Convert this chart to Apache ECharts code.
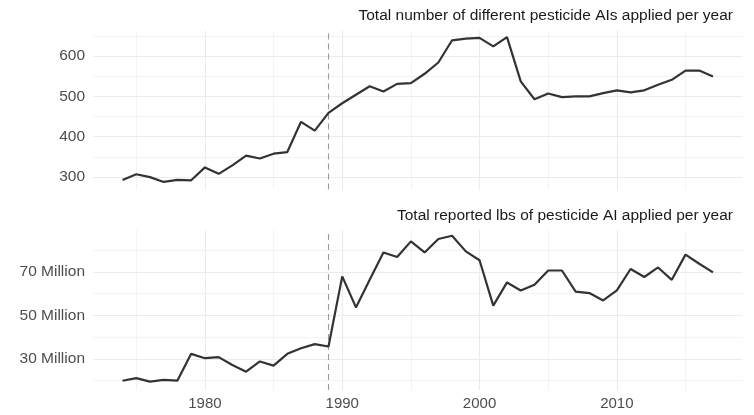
<!DOCTYPE html>
<html>
<head>
<meta charset="utf-8">
<script src="https://cdn.jsdelivr.net/npm/echarts@6/dist/echarts.min.js"></script>
<style>
  html, body { margin: 0; padding: 0; background: #fff; }
  #chart { width: 754px; height: 415px; }
</style>
</head>
<body>
<div id="chart"></div>
<script>
// Years covered by both panels
const years = [];
for (let y = 1974; y <= 2017; y++) years.push(y);

// Number of distinct pesticide active ingredients applied per year
const aiCount = [293, 307, 300, 288, 293, 292, 324, 308, 329, 353, 346, 358, 362, 437, 415, 459,
  483, 504, 525, 512, 531, 533, 556, 584, 639, 643, 645, 624, 647, 537, 493, 507,
  498, 500, 500, 508, 515, 510, 515, 529, 541, 564, 564, 549];

// Total reported pounds of active ingredient applied per year (millions of lbs)
const lbsMillions = [19.9, 21.1, 19.5, 20.3, 20.0, 32.3, 30.3, 30.8, 27.2, 24.1, 28.8, 26.9, 32.3, 34.9, 36.8, 35.7,
  68.0, 53.7, 66.4, 79.0, 76.9, 84.1, 79.0, 85.2, 86.7, 79.5, 75.4, 54.5, 65.2, 61.5, 64.1, 70.7,
  70.7, 61.0, 60.3, 56.9, 61.5, 71.4, 67.7, 72.1, 66.4, 78.0, 73.8, 69.8];

// Tick labels and grid positions
const xLabels = [1980, 1990, 2000, 2010];
const xGrid = [1975, 1980, 1985, 1990, 1995, 2000, 2005, 2010, 2015];
const topLabels = [300, 400, 500, 600];
const topGrid = [300, 350, 400, 450, 500, 550, 600, 650];
const botLabels = [30, 50, 70];
const botGrid = [20, 30, 40, 50, 60, 70, 80];
const markerYear = 1989;

const titles = [
  'Total number of different pesticide AIs applied per year',
  'Total reported lbs of pesticide AI applied per year'
];

const FONT = '"Liberation Sans", Arial, Helvetica, sans-serif';
const GRID_COLOR = '#ebebeb';
const LABEL_COLOR = '#4d4d4d';

function pairs(vals) { return years.map((y, i) => [y, vals[i]]); }

// Background grid (major/minor) plus the dashed reference year, drawn under the data line
function gridSeries(idx, yVals, isMajorY) {
  const data = [];
  xGrid.forEach(v => data.push({ xAxis: v, lineStyle: { width: v % 10 === 0 ? 1.1 : 0.6 } }));
  yVals.forEach(v => data.push({ yAxis: v, lineStyle: { width: isMajorY(v) ? 1.1 : 0.6 } }));
  data.push({ xAxis: markerYear, lineStyle: { color: '#9a9a9a', type: [6, 4], width: 1.1 } });
  return {
    type: 'line', xAxisIndex: idx, yAxisIndex: idx, data: [], z: 1, silent: true,
    markLine: {
      silent: true, symbol: ['none', 'none'], label: { show: false },
      lineStyle: { color: GRID_COLOR, type: 'solid' },
      emphasis: { disabled: true },
      animation: false,
      data: data
    }
  };
}

const chart = echarts.init(document.getElementById('chart'), null, { renderer: 'canvas' });

const xBase = {
  type: 'value', min: 1971.85, max: 2019.15,
  axisLine: { show: false }, axisTick: { show: false }, splitLine: { show: false }
};

const titleStyle = { fontFamily: FONT, fontSize: 15.5, fontWeight: 'normal', color: '#1a1a1a' };

chart.setOption({
  backgroundColor: '#ffffff',
  animation: false,
  title: [
    { text: titles[0], right: 21, top: 8, padding: 0, textStyle: titleStyle },
    { text: titles[1], right: 21, top: 208, padding: 0, textStyle: titleStyle }
  ],
  grid: [
    { left: 93, right: 11.5, top: 30.6, height: 159 },
    { left: 93, right: 11.5, top: 230, height: 160 }
  ],
  xAxis: [
    Object.assign({}, xBase, { gridIndex: 0, axisLabel: { show: false } }),
    Object.assign({}, xBase, {
      gridIndex: 1,
      axisLabel: {
        show: true, customValues: xLabels, margin: 6, fontFamily: FONT, fontSize: 15, color: LABEL_COLOR,
        formatter: v => String(v)
      }
    })
  ],
  yAxis: [
    {
      type: 'value', gridIndex: 0, min: 269, max: 663,
      axisLine: { show: false }, axisTick: { show: false }, splitLine: { show: false },
      axisLabel: { customValues: topLabels, margin: 8, fontFamily: FONT, fontSize: 15.5, color: LABEL_COLOR }
    },
    {
      type: 'value', gridIndex: 1, min: 15.65, max: 89.35,
      axisLine: { show: false }, axisTick: { show: false }, splitLine: { show: false },
      axisLabel: {
        customValues: botLabels, margin: 8, fontFamily: FONT, fontSize: 15.5, color: LABEL_COLOR,
        formatter: v => v + ' Million'
      }
    }
  ],
  series: [
    gridSeries(0, topGrid, v => v % 100 === 0),
    gridSeries(1, botGrid, v => v % 20 === 10),
    {
      type: 'line', xAxisIndex: 0, yAxisIndex: 0, z: 5, data: pairs(aiCount),
      showSymbol: false, lineStyle: { color: '#333333', width: 2.2 }
    },
    {
      type: 'line', xAxisIndex: 1, yAxisIndex: 1, z: 5, data: pairs(lbsMillions),
      showSymbol: false, lineStyle: { color: '#333333', width: 2.2 }
    }
  ]
});
</script>
</body>
</html>
